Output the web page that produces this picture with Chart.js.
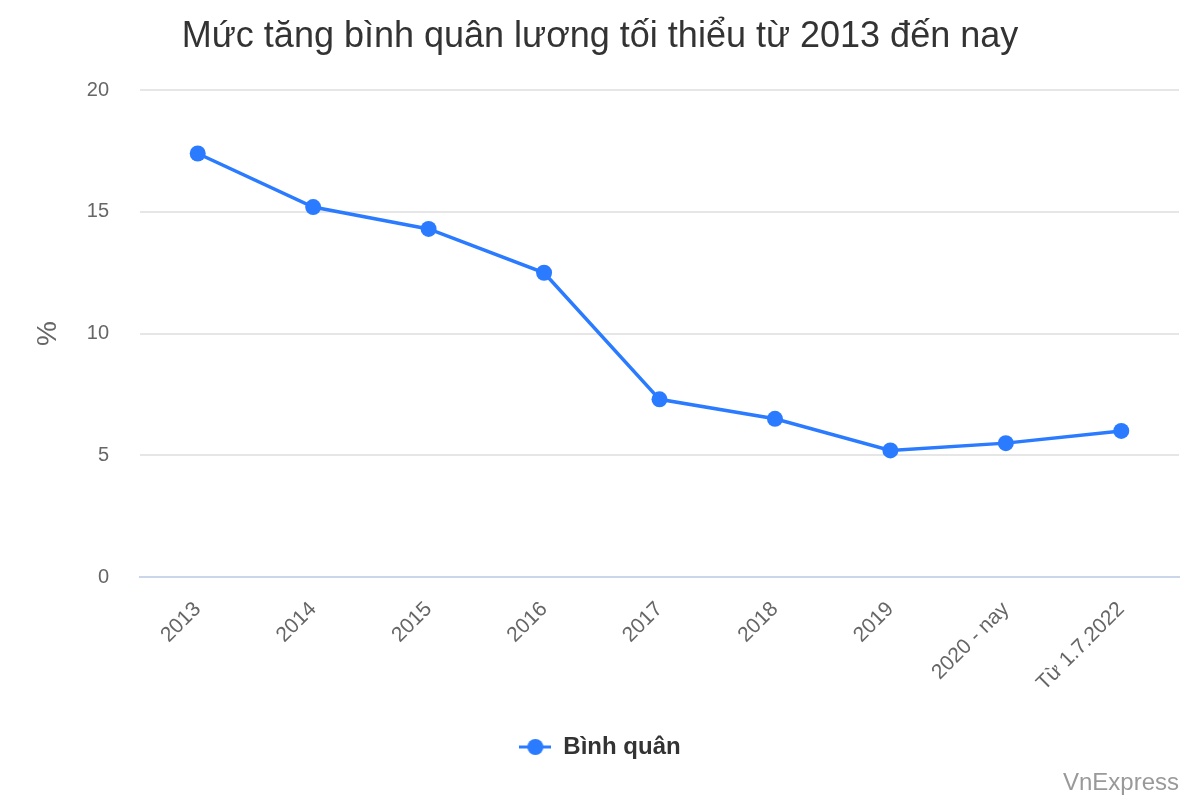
<!DOCTYPE html>
<html>
<head>
<meta charset="utf-8">
<script src="https://cdn.jsdelivr.net/npm/chart.js@4.4.1/dist/chart.umd.min.js"></script>
<style>
  body { margin: 0; background: #fff; }
  #wrap { width: 1200px; height: 800px; }
</style>
</head>
<body>
<div id="wrap"><canvas id="chart"></canvas></div>
<script>
  const categories = ['2013', '2014', '2015', '2016', '2017', '2018', '2019', '2020 - nay', 'Từ 1.7.2022'];
  const binhQuan = [17.4, 15.2, 14.3, 12.5, 7.3, 6.5, 5.2, 5.5, 6.0];
  const yTicks = [0, 5, 10, 15, 20];

  const blue = '#2a7bff';
  const fontFamily = '"Liberation Sans", Arial, sans-serif';

  // legend symbol: short line with a dot on it
  const sym = document.createElement('canvas');
  sym.width = 32;
  sym.height = 18;
  const sctx = sym.getContext('2d');
  sctx.strokeStyle = blue;
  sctx.lineWidth = 3;
  sctx.beginPath();
  sctx.moveTo(0, 9);
  sctx.lineTo(32, 9);
  sctx.stroke();
  sctx.fillStyle = blue;
  sctx.beginPath();
  sctx.arc(16, 9, 8, 0, Math.PI * 2);
  sctx.fill();

  const credits = {
    id: 'credits',
    afterDraw(chart) {
      const ctx = chart.ctx;
      ctx.save();
      ctx.font = '24px ' + fontFamily;
      ctx.fillStyle = '#999999';
      ctx.textAlign = 'right';
      ctx.textBaseline = 'alphabetic';
      ctx.fillText('VnExpress', 1179, 790);
      ctx.restore();
    }
  };

  new Chart(document.getElementById('chart'), {
    type: 'line',
    data: {
      labels: categories,
      datasets: [{
        label: 'Bình quân',
        data: binhQuan,
        borderColor: blue,
        backgroundColor: blue,
        borderWidth: 3.5,
        pointRadius: 8,
        pointHoverRadius: 8,
        pointBackgroundColor: blue,
        pointBorderWidth: 0,
        tension: 0
      }]
    },
    options: {
      responsive: true,
      maintainAspectRatio: false,
      animation: false,
      layout: {
        padding: { left: 0, right: 0, top: 0, bottom: 31 }
      },
      scales: {
        x: {
          offset: true,
          grid: { display: false },
          border: { color: '#ccd6eb', width: 2 },
          ticks: {
            color: '#666666',
            font: { family: fontFamily, size: 21 },
            minRotation: 45,
            maxRotation: 45,
            autoSkip: false,
            padding: 12
          },
          afterFit: scale => { scale.height = 148; }
        },
        y: {
          min: 0,
          max: 20,
          afterBuildTicks: scale => { scale.ticks = yTicks.map(v => ({ value: v })); },
          grid: {
            color: '#e6e6e6',
            lineWidth: 2,
            drawTicks: false
          },
          border: { display: false },
          ticks: {
            color: '#666666',
            font: { family: fontFamily, size: 20 },
            padding: 31
          },
          title: {
            display: true,
            text: '%',
            color: '#666666',
            font: { family: fontFamily, size: 28 },
            padding: { top: 31, bottom: 0 }
          },
          afterFit: scale => { scale.width = 140; }
        },
        // empty right-hand spacer so the plot ends before the canvas edge
        yRight: {
          position: 'right',
          grid: { display: false },
          border: { display: false },
          ticks: { display: false },
          afterFit: scale => { scale.width = 21; }
        }
      },
      plugins: {
        title: {
          display: true,
          text: 'Mức tăng bình quân lương tối thiểu từ 2013 đến nay',
          color: '#333333',
          font: { family: fontFamily, size: 36, weight: 'normal' },
          padding: { top: 15, bottom: 32 }
        },
        legend: {
          position: 'bottom',
          labels: {
            usePointStyle: true,
            pointStyle: sym,
            pointStyleWidth: 32,
            color: '#333333',
            font: { family: fontFamily, size: 24, weight: 'bold' },
            padding: 10
          }
        },
        tooltip: { enabled: false }
      }
    },
    plugins: [credits]
  });
</script>
</body>
</html>
